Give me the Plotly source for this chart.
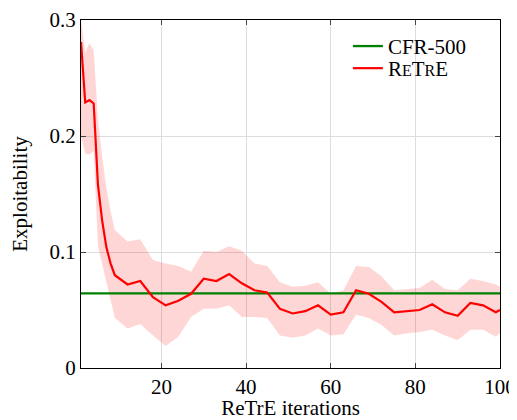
import plotly.graph_objects as go

iterations = [1, 2, 3, 4, 5, 6, 7, 8, 9, 12, 15, 18, 21, 24, 27, 30, 33, 36, 39, 42, 45,
              48, 51, 54, 57, 60, 63, 66, 69, 72, 75, 78, 81, 84, 87, 90, 93, 96, 99, 100]
retre_mean = [0.281, 0.229, 0.231, 0.228, 0.158, 0.127, 0.104, 0.090, 0.080, 0.072, 0.075,
              0.061, 0.054, 0.058, 0.064, 0.077, 0.075, 0.081, 0.073, 0.067, 0.065,
              0.051, 0.047, 0.049, 0.054, 0.046, 0.048, 0.067, 0.064, 0.057, 0.048,
              0.049, 0.050, 0.055, 0.048, 0.045, 0.056, 0.054, 0.048, 0.050]
retre_upper = [0.300, 0.272, 0.280, 0.274, 0.215, 0.182, 0.155, 0.135, 0.119, 0.109, 0.111,
               0.093, 0.090, 0.088, 0.083, 0.101, 0.100, 0.105, 0.101, 0.090, 0.088,
               0.074, 0.070, 0.071, 0.074, 0.064, 0.067, 0.088, 0.087, 0.079, 0.067,
               0.068, 0.069, 0.076, 0.068, 0.067, 0.077, 0.075, 0.072, 0.070]
retre_lower = [0.200, 0.185, 0.184, 0.187, 0.105, 0.090, 0.074, 0.058, 0.043, 0.034, 0.038,
               0.028, 0.019, 0.027, 0.044, 0.051, 0.051, 0.054, 0.044, 0.044, 0.043,
               0.028, 0.026, 0.028, 0.034, 0.028, 0.029, 0.046, 0.043, 0.037, 0.028,
               0.030, 0.031, 0.033, 0.028, 0.024, 0.033, 0.033, 0.027, 0.030]
cfr_x = [1, 100]
cfr_value = 0.0644
x_ticks = [20, 40, 60, 80, 100]
y_ticks = [0, 0.1, 0.2, 0.3]
y_tick_labels = ["0", "0.1", "0.2", "0.3"]

FONT = "Liberation Serif"
FS = 21
small = "font-size:16px"
retre_name = f"R<span style='{small}'>E</span>T<span style='{small}'>R</span>E"

fig = go.Figure()
fig.add_trace(go.Scatter(
    x=iterations + iterations[::-1],
    y=retre_upper + retre_lower[::-1],
    fill="toself", fillcolor="rgba(255,0,0,0.16)",
    line=dict(width=0), mode="lines", hoverinfo="skip", showlegend=False))
fig.add_trace(go.Scatter(
    x=cfr_x, y=[cfr_value] * len(cfr_x), mode="lines",
    line=dict(color="#008000", width=2.3), name="CFR-500", legend="legend"))
fig.add_trace(go.Scatter(
    x=iterations, y=retre_mean, mode="lines",
    line=dict(color="#ff0000", width=2.2), name=retre_name, legend="legend2"))

axis_common = dict(
    showline=True, linecolor="black", linewidth=1, mirror="allticks",
    ticks="inside", ticklen=5, tickcolor="#444444", tickwidth=1,
    showgrid=True, gridcolor="#dddddd", gridwidth=1, zeroline=False,
    automargin=False,
    tickfont=dict(family=FONT, size=FS, color="black"),
)
fig.update_xaxes(range=[1, 100], tickvals=x_ticks, **axis_common,
                 title=dict(text="ReTrE iterations", standoff=14,
                            font=dict(family=FONT, size=FS, color="black")))
fig.update_yaxes(range=[0, 0.3], tickvals=y_ticks, ticktext=y_tick_labels, **axis_common,
                 title=dict(text="Exploitability", standoff=17,
                            font=dict(family=FONT, size=FS, color="black")))

legend_style = dict(xanchor="left", yanchor="top", bgcolor="rgba(0,0,0,0)",
                    borderwidth=0, font=dict(family=FONT, size=FS, color="black"))
fig.update_layout(
    width=509, height=412,
    margin=dict(l=73, r=17, t=12, b=52),
    plot_bgcolor="white", paper_bgcolor="white",
    font=dict(family=FONT, size=FS, color="black"),
    legend=dict(x=0.637, y=0.983, **legend_style),
    legend2=dict(x=0.637, y=0.9195, **legend_style),
    showlegend=True,
)

fig.write_html("out.html")
